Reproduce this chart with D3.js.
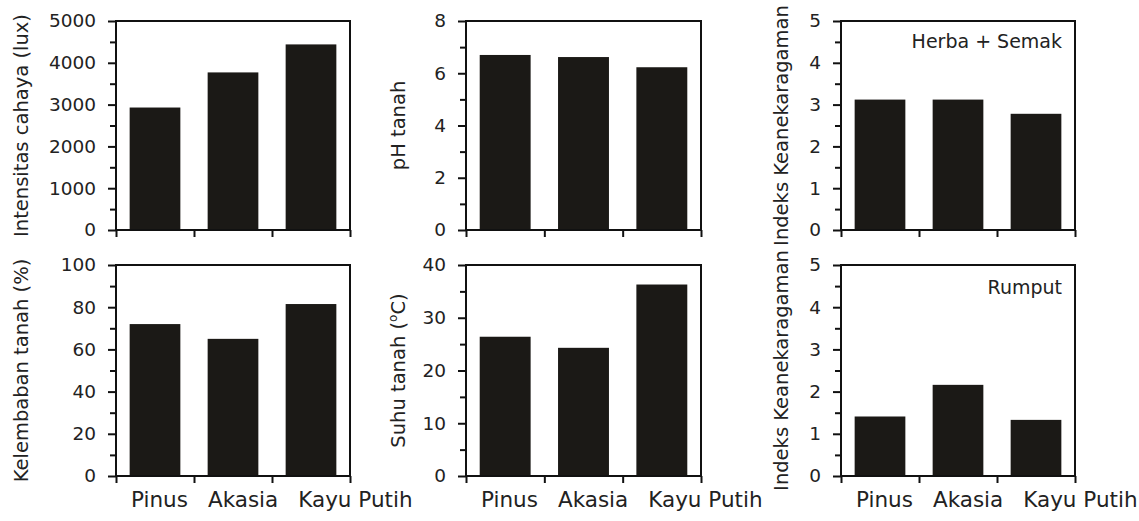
<!DOCTYPE html>
<html>
<head>
<meta charset="utf-8">
<script src="https://cdn.jsdelivr.net/npm/d3@7"></script>
<style>
  html, body { margin: 0; padding: 0; background: #fff; }
  svg { display: block; }
  text { font-family: "DejaVu Sans", sans-serif; fill: #222; }
</style>
</head>
<body>
<script>
// ---- data ----
const categories = ["Pinus", "Akasia", "Kayu Putih"];

const intensitasCahaya = [2930, 3770, 4440];
const phTanah = [6.70, 6.62, 6.23];
const indeksHerbaSemak = [3.12, 3.12, 2.78];
const kelembabanTanah = [72, 65, 81.5];
const suhuTanah = [26.4, 24.3, 36.3];
const indeksRumput = [1.41, 2.16, 1.33];

const ticksCahaya = [0, 1000, 2000, 3000, 4000, 5000];
const minorCahaya = [500, 1500, 2500, 3500, 4500];
const ticksPh = [0, 2, 4, 6, 8];
const minorPh = [1, 3, 5, 7];
const ticksIndeks = [0, 1, 2, 3, 4, 5];
const minorIndeks = [0.5, 1.5, 2.5, 3.5, 4.5];
const ticksKelembaban = [0, 20, 40, 60, 80, 100];
const minorKelembaban = [10, 30, 50, 70, 90];
const ticksSuhu = [0, 10, 20, 30, 40];
const minorSuhu = [5, 15, 25, 35];

// ---- layout ----
const W = 1139, H = 521;
const cols = [
  { l: 116, r: 350, titleOff: 95 },
  { l: 466, r: 701, titleOff: 68 },
  { l: 841, r: 1075, titleOff: 60 }
];
const rows = [{ t: 21, b: 230 }, { t: 265, b: 476 }];

const panels = [
  { row: 0, col: 0, values: intensitasCahaya, ticks: ticksCahaya, minor: minorCahaya, title: ["Intensitas cahaya (lux)"] },
  { row: 0, col: 1, values: phTanah, ticks: ticksPh, minor: minorPh, title: ["pH tanah"] },
  { row: 0, col: 2, values: indeksHerbaSemak, ticks: ticksIndeks, minor: minorIndeks, title: ["Indeks Keanekaragaman"], note: "Herba + Semak" },
  { row: 1, col: 0, values: kelembabanTanah, ticks: ticksKelembaban, minor: minorKelembaban, title: ["Kelembaban tanah (%)"], xlabels: true },
  { row: 1, col: 1, values: suhuTanah, ticks: ticksSuhu, minor: minorSuhu, title: ["Suhu tanah (", "o", "C)"], xlabels: true },
  { row: 1, col: 2, values: indeksRumput, ticks: ticksIndeks, minor: minorIndeks, title: ["Indeks Keanekaragaman"], note: "Rumput", xlabels: true }
];

const svg = d3.select("body").append("svg")
  .attr("width", W).attr("height", H)
  .attr("viewBox", `0 0 ${W} ${H}`);

svg.append("rect").attr("width", W).attr("height", H).attr("fill", "#fff");

panels.forEach(p => {
  const c = cols[p.col], rw = rows[p.row];
  const g = svg.append("g");

  const x = d3.scaleBand().domain(categories).range([c.l, c.r])
    .paddingInner(0.35).paddingOuter(0.175);
  const y = d3.scaleLinear().domain([0, d3.max(p.ticks)]).range([rw.b, rw.t]);

  // bars
  g.selectAll("rect.bar").data(p.values).join("rect")
    .attr("class", "bar")
    .attr("x", (d, i) => x(categories[i]))
    .attr("y", d => y(d))
    .attr("width", x.bandwidth())
    .attr("height", d => rw.b - y(d))
    .attr("fill", "#1b1916");

  // minor y ticks
  const minorAxis = g.append("g").attr("transform", `translate(${c.l},0)`)
    .call(d3.axisLeft(y).tickValues(p.minor).tickSize(6).tickFormat(""));
  minorAxis.select(".domain").remove();
  minorAxis.selectAll("line").attr("stroke", "#111").attr("stroke-width", 2);

  // major y ticks
  const yAxis = g.append("g").attr("transform", `translate(${c.l},0)`)
    .call(d3.axisLeft(y).tickValues(p.ticks).tickSize(8).tickSizeOuter(0).tickPadding(12)
      .tickFormat(d3.format("d")));
  yAxis.select(".domain").remove();
  yAxis.selectAll("line").attr("stroke", "#111").attr("stroke-width", 2);
  yAxis.selectAll("text").attr("font-size", 18.5).attr("font-family", "DejaVu Sans").attr("fill", "#222");

  // category boundary ticks on the x axis
  const xb = d3.scaleLinear().domain([0, categories.length]).range([c.l, c.r]);
  const xAxis = g.append("g").attr("transform", `translate(0,${rw.b})`)
    .call(d3.axisBottom(xb).tickValues(d3.range(categories.length + 1)).tickSize(7).tickFormat(""));
  xAxis.select(".domain").remove();
  xAxis.selectAll("line").attr("stroke", "#111").attr("stroke-width", 2);

  // frame
  g.append("rect")
    .attr("x", c.l).attr("y", rw.t)
    .attr("width", c.r - c.l).attr("height", rw.b - rw.t)
    .attr("fill", "none").attr("stroke", "#111").attr("stroke-width", 2);

  // y title
  const t = g.append("text")
    .attr("transform", `translate(${c.l - c.titleOff},${(rw.t + rw.b) / 2}) rotate(-90)`)
    .attr("text-anchor", "middle")
    .attr("dy", "0.35em")
    .attr("font-size", 19.5);
  if (p.title.length === 1) {
    t.text(p.title[0]);
  } else {
    t.append("tspan").text(p.title[0]);
    t.append("tspan").attr("font-size", 12).attr("dy", -8).text(p.title[1]);
    t.append("tspan").attr("dy", 8).text(p.title[2]);
  }

  // note
  if (p.note) {
    g.append("text")
      .attr("x", c.r - 13)
      .attr("y", rw.t + (p.row === 0 ? 27 : 29))
      .attr("text-anchor", "end")
      .attr("font-size", 19)
      .attr("fill", "#333")
      .text(p.note);
  }

  // x labels
  if (p.xlabels) {
    const xt = g.append("text")
      .attr("x", c.l + 15)
      .attr("y", 507)
      .attr("font-size", 21.5);
    categories.forEach((cat, i) => {
      xt.append("tspan").attr("dx", i === 0 ? 0 : 20).text(cat);
    });
  }
});
</script>
</body>
</html>
